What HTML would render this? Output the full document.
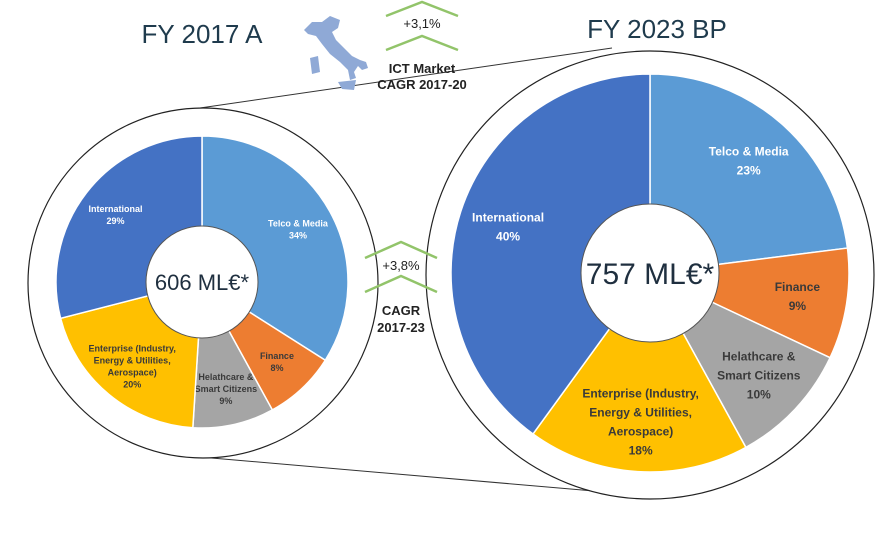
<!DOCTYPE html>
<html><head><meta charset="utf-8"><style>
html,body{margin:0;padding:0;background:#fff;}
svg{display:block;font-family:"Liberation Sans",sans-serif;}
</style></head><body>
<svg width="881" height="537" viewBox="0 0 881 537">
<g id="bg">
<line x1="200" y1="108" x2="612" y2="48" stroke="#333" stroke-width="1"/>
<line x1="200" y1="457" x2="640" y2="495" stroke="#333" stroke-width="1"/>
</g>
<circle cx="203" cy="283" r="175" fill="#fff" stroke="#222" stroke-width="1.2"/>
<circle cx="650" cy="275" r="224" fill="#fff" stroke="#222" stroke-width="1.2"/>
<g id="pies"></g>
<text x="202" y="43" font-size="26" fill="#1f3b4d" text-anchor="middle">FY 2017 A</text>
<text x="657" y="38" font-size="26" fill="#1f3b4d" text-anchor="middle">FY 2023 BP</text>
<path d="M304,30 L312,22 L322,22 L330,16 L340,20 L338,28 L332,32 L336,40 L344,48 L352,56 L360,60 L366,62 L368,68 L362,70 L358,66 L354,72 L356,78 L350,80 L348,70 L340,62 L330,54 L322,44 L316,36 L308,34 Z" fill="#8fa9d6"/>
<path d="M310,58 L318,56 L320,72 L312,74 Z" fill="#8fa9d6"/>
<path d="M338,82 L356,80 L354,90 L342,89 Z" fill="#8fa9d6"/>
<g fill="none" stroke="#92c46a" stroke-width="2.5">
<polyline points="386,16 422,2 458,16"/><polyline points="386,50 422,36 458,50"/>
</g>
<text x="422" y="28" font-size="13" fill="#222" text-anchor="middle">+3,1%</text>
<text x="422" y="73" font-size="13" font-weight="bold" fill="#222" text-anchor="middle">ICT Market</text>
<text x="422" y="89" font-size="13" font-weight="bold" fill="#222" text-anchor="middle">CAGR 2017-20</text>
<g fill="none" stroke="#92c46a" stroke-width="2.5">
<polyline points="365,258 401,242 437,258"/><polyline points="365,292 401,276 437,292"/>
</g>
<text x="401" y="270" font-size="13" fill="#222" text-anchor="middle">+3,8%</text>
<text x="401" y="315" font-size="13" font-weight="bold" fill="#222" text-anchor="middle">CAGR</text>
<text x="401" y="332" font-size="13" font-weight="bold" fill="#222" text-anchor="middle">2017-23</text>
</svg>
<script>
const categories = ["Telco & Media","Finance","Helathcare & Smart Citizens","Enterprise (Industry, Energy & Utilities, Aerospace)","International"];
const labelLines2017 = [["Telco & Media"],["Finance"],["Helathcare &","Smart Citizens"],["Enterprise (Industry,","Energy & Utilities,","Aerospace)"],["International"]];
const values2017 = [34, 8, 9, 20, 29];
const values2023 = [23, 9, 10, 18, 40];
const totals = ["606 ML€*", "757 ML€*"];
const colors = ["#5b9bd5","#ed7d31","#a5a5a5","#ffc000","#4472c4"];
const textColors = ["#fff","#3a3a3a","#3a3a3a","#3a3a3a","#fff"];
const NS = "http://www.w3.org/2000/svg";
const g = document.getElementById("pies");
function mk(tag, attrs){const e=document.createElementNS(NS,tag);for(const k in attrs)e.setAttribute(k,attrs[k]);return e;}
function drawPie(id, vals, cx, cy, r, hole, fs, lh, total, tfs){
  const sum = vals.reduce((a,b)=>a+b,0);
  let a0 = -Math.PI/2;
  vals.forEach((v,i)=>{
    const a1 = a0 + v/sum*2*Math.PI;
    const large = (a1-a0)>Math.PI?1:0;
    const d = `M${cx},${cy} L${cx+r*Math.cos(a0)},${cy+r*Math.sin(a0)} A${r},${r} 0 ${large} 1 ${cx+r*Math.cos(a1)},${cy+r*Math.sin(a1)} Z`;
    const p = mk("path",{d:d,fill:colors[i],stroke:"#fff","stroke-width":1.5});
    
    
    g.appendChild(p);
    const am = (a0+a1)/2, lr = r*0.75;
    const lx = cx+lr*Math.cos(am), ly = cy+lr*Math.sin(am);
    const lines = labelLines2017[i].concat([v+"%"]);
    const t = mk("text",{x:lx,"text-anchor":"middle","font-size":fs,"font-weight":"bold",fill:textColors[i]});
    
    
    const y0 = ly - (lines.length-1)*lh/2 + fs*0.35;
    lines.forEach((s,j)=>{const ts=mk("tspan",{x:lx,y:y0+j*lh});ts.textContent=s;t.appendChild(ts);});
    g.appendChild(t);
    a0 = a1;
  });
  const h = mk("circle",{cx:cx,cy:cy,r:hole,fill:"#fff",stroke:"#555","stroke-width":1});
  
  
  g.appendChild(h);
  const tt = mk("text",{x:cx,y:cy+tfs*0.36,"text-anchor":"middle","font-size":tfs,fill:"#1f2f3f"});
  
  
  tt.textContent = total;
  g.appendChild(tt);
}
drawPie("pie-2017", values2017, 202, 282, 146, 56, 9, 12, totals[0], 22);
drawPie("pie-2023", values2023, 650, 273, 199, 69, 12, 19, totals[1], 30);
</script>
</body></html>
